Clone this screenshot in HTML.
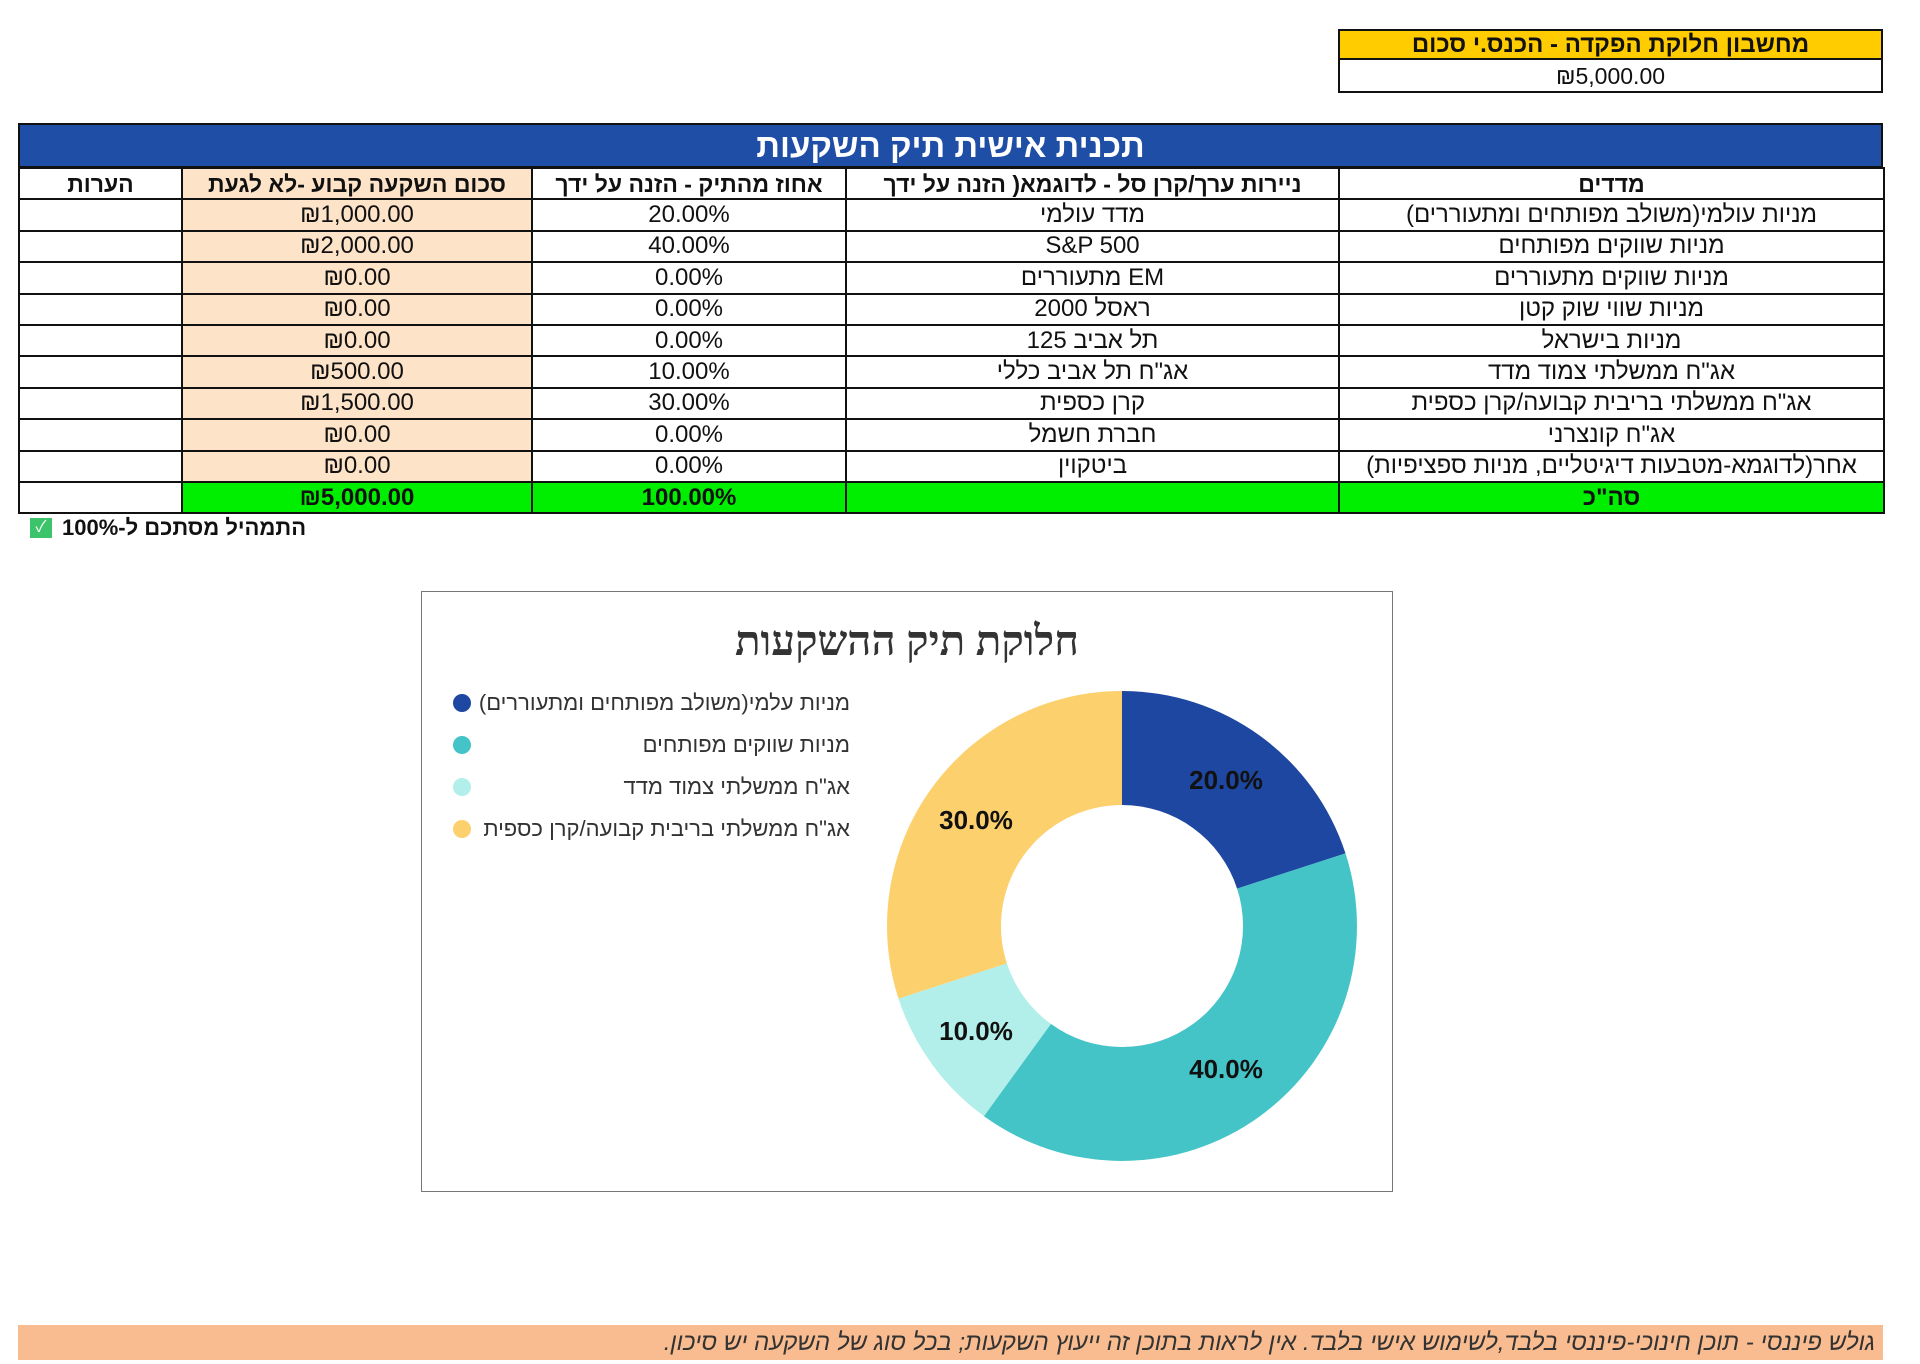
<!DOCTYPE html>
<html><head><meta charset="utf-8"><style>
*{margin:0;padding:0;box-sizing:border-box}
body{width:1920px;height:1364px;background:#fff;position:relative;overflow:hidden;font-family:"Liberation Sans","Noto Sans CJK SC",sans-serif;color:#111}
.abs{position:absolute}
table{position:absolute;left:18px;top:167px;width:1865px;border-collapse:collapse;table-layout:fixed;direction:ltr}
td{border:2px solid #111;height:31.4px;font-size:24px;text-align:center;white-space:nowrap;overflow:hidden;direction:rtl;padding:0;line-height:26px}
td.p{background:#fde3c8}
tr.h td{font-weight:bold;font-size:23px}
tr.t td{background:#00ee00;font-weight:bold}
tr.t td.w{background:#fff}
</style></head><body>
<div class="abs" style="left:1338px;top:29px;width:545px;height:64px;border:2px solid #111"></div>
<div class="abs" style="left:1340px;top:31px;width:541px;height:29px;background:#ffcc00;border-bottom:2px solid #111;display:flex;align-items:center;justify-content:center;font-size:24px;font-weight:bold;direction:rtl">מחשבון חלוקת הפקדה - הכנס.י סכום</div>
<div class="abs" style="left:1340px;top:61px;width:541px;height:30px;display:flex;align-items:center;justify-content:center;font-size:23px">₪5,000.00</div>

<div class="abs" style="left:18px;top:123px;width:1865px;height:45px;background:#1f4ea6;border:2px solid #111;color:#fff;font-weight:bold;font-size:33px;display:flex;align-items:center;justify-content:center;direction:rtl">תכנית אישית תיק השקעות</div>
<table>
<colgroup><col style="width:163px"><col style="width:350px"><col style="width:314px"><col style="width:493px"><col style="width:545px"></colgroup>
<tr class="h"><td>הערות</td><td class="p">סכום השקעה קבוע -לא לגעת</td><td>אחוז מהתיק - הזנה על ידך</td><td>ניירות ערך/קרן סל - לדוגמא( הזנה על ידך</td><td>מדדים</td></tr>
<tr><td></td><td class="p">₪1,000.00</td><td>20.00%</td><td>מדד עולמי</td><td>מניות עולמי(משולב מפותחים ומתעוררים)</td></tr>
<tr><td></td><td class="p">₪2,000.00</td><td>40.00%</td><td>S&amp;P 500</td><td>מניות שווקים מפותחים</td></tr>
<tr><td></td><td class="p">₪0.00</td><td>0.00%</td><td>EM מתעוררים</td><td>מניות שווקים מתעוררים</td></tr>
<tr><td></td><td class="p">₪0.00</td><td>0.00%</td><td>ראסל 2000</td><td>מניות שווי שוק קטן</td></tr>
<tr><td></td><td class="p">₪0.00</td><td>0.00%</td><td>תל אביב 125</td><td>מניות בישראל</td></tr>
<tr><td></td><td class="p">₪500.00</td><td>10.00%</td><td>אג"ח תל אביב כללי</td><td>אג"ח ממשלתי צמוד מדד</td></tr>
<tr><td></td><td class="p">₪1,500.00</td><td>30.00%</td><td>קרן כספית</td><td>אג"ח ממשלתי בריבית קבועה/קרן כספית</td></tr>
<tr><td></td><td class="p">₪0.00</td><td>0.00%</td><td>חברת חשמל</td><td>אג"ח קונצרני</td></tr>
<tr><td></td><td class="p">₪0.00</td><td>0.00%</td><td>ביטקוין</td><td>אחר(לדוגמא-מטבעות דיגיטליים, מניות ספציפיות)</td></tr>
<tr class="t"><td class="w"></td><td>₪5,000.00</td><td>100.00%</td><td></td><td>סה"כ</td></tr>
</table>
<div class="abs" style="left:30px;top:518px;width:22px;height:20px;background:#3cc46a;color:#fff;font-size:16px;text-align:center;line-height:20px">✓</div>
<div class="abs" style="left:62px;top:515px;font-size:22px;font-weight:bold;direction:rtl">התמהיל מסתכם ל-100%</div>

<div class="abs" style="left:421px;top:591px;width:972px;height:601px;border:1px solid #777"></div>
<div class="abs" style="left:421px;top:618px;width:972px;text-align:center;font-size:42px;font-weight:bold;color:#333;direction:rtl;font-family:'Liberation Serif',serif">חלוקת תיק ההשקעות</div>
<svg class="abs" style="left:0;top:0" width="1920" height="1364">
<path d="M1122,691 A235,235 0 0 1 1345.5,853.4 L1237.1,888.6 A121,121 0 0 0 1122,805 Z" fill="#1d47a0"/>
<path d="M1345.5,853.4 A235,235 0 0 1 983.9,1116.1 L1050.9,1023.9 A121,121 0 0 0 1237.1,888.6 Z" fill="#45c4c8"/>
<path d="M983.9,1116.1 A235,235 0 0 1 898.5,998.6 L1006.9,963.4 A121,121 0 0 0 1050.9,1023.9 Z" fill="#b3efea"/>
<path d="M898.5,998.6 A235,235 0 0 1 1122,691 L1122,805 A121,121 0 0 0 1006.9,963.4 Z" fill="#fdd06e"/>
<g font-family="Liberation Sans,sans-serif" font-size="26" font-weight="bold" fill="#111" text-anchor="middle">
<text x="1226" y="789">20.0%</text><text x="1226" y="1078">40.0%</text>
<text x="976" y="1040">10.0%</text><text x="976" y="829">30.0%</text></g>
<circle cx="462" cy="703" r="9" fill="#1d47a0"/><circle cx="462" cy="745" r="9" fill="#45c4c8"/>
<circle cx="462" cy="787" r="9" fill="#b3efea"/><circle cx="462" cy="829" r="9" fill="#fdd06e"/>
</svg>
<div class="abs" style="right:1070px;top:690px;font-size:22px;color:#333;direction:rtl">מניות עלמי(משולב מפותחים ומתעוררים)</div>
<div class="abs" style="right:1070px;top:732px;font-size:22px;color:#333;direction:rtl">מניות שווקים מפותחים</div>
<div class="abs" style="right:1070px;top:774px;font-size:22px;color:#333;direction:rtl">אג"ח ממשלתי צמוד מדד</div>
<div class="abs" style="right:1070px;top:816px;font-size:22px;color:#333;direction:rtl">אג"ח ממשלתי בריבית קבועה/קרן כספית</div>

<div class="abs" style="left:18px;top:1325px;width:1865px;height:35px;background:#f8bc90;direction:rtl;font-style:italic;font-size:24px;color:#333;padding-right:8px;line-height:35px">גולש פיננסי - תוכן חינוכי-פיננסי בלבד,לשימוש אישי בלבד. אין לראות בתוכן זה ייעוץ השקעות; בכל סוג של השקעה יש סיכון.</div>
</body></html>
